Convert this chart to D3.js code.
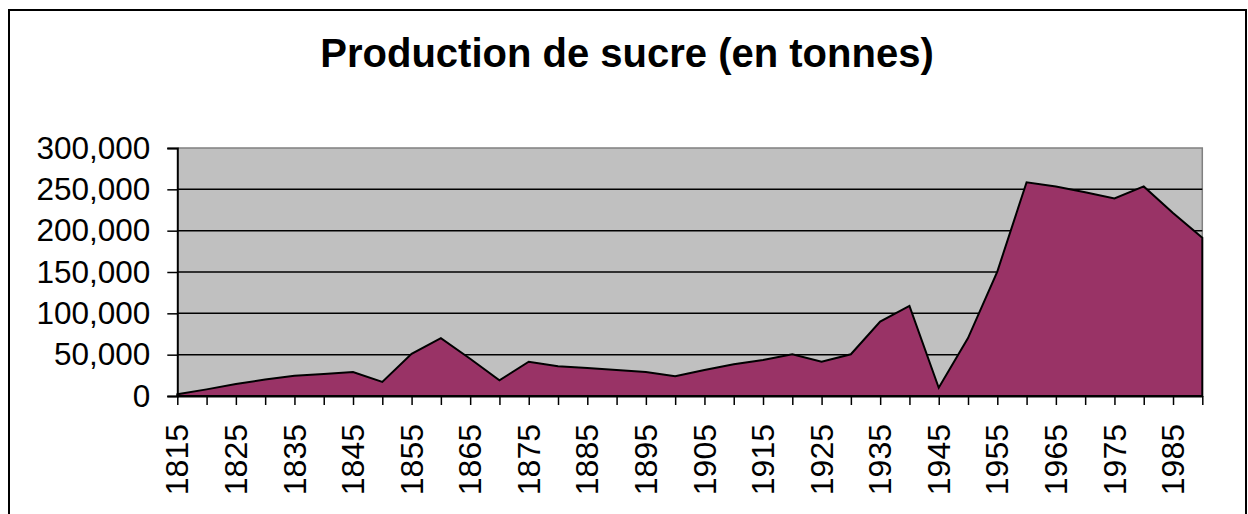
<!DOCTYPE html>
<html>
<head>
<meta charset="utf-8">
<script src="https://cdn.jsdelivr.net/npm/d3@7"></script>
<style>
    html, body { margin: 0; padding: 0; background: #fff; }
    svg { display: block; font-family: "Liberation Sans", Arial, sans-serif; }
</style>
</head>
<body>
<div id="chart"></div>
<script>
let years = [1815, 1820, 1825, 1830, 1835, 1840, 1845, 1850, 1855, 1860,
    1865, 1870, 1875, 1880, 1885, 1890, 1895, 1900, 1905, 1910,
    1915, 1920, 1925, 1930, 1935, 1940, 1945, 1950, 1955, 1960,
    1965, 1970, 1975, 1980, 1985, 1990];
let production = [2000, 8000, 14500, 20000, 24500, 26500, 29000, 17000, 51000, 70000,
    45000, 19000, 41500, 36000, 34000, 31500, 29000, 24000, 31500, 38500,
    43500, 50500, 41500, 50500, 90000, 109000, 10000, 70000, 150500, 258500,
    253500, 246500, 239000, 253500, 221500, 191500];
let yTicks = [0, 50000, 100000, 150000, 200000, 250000, 300000];
let title = "Production de sucre (en tonnes)";

let width = 1248, height = 514;
let plotLeft = 177.3, plotRight = 1202.3, plotTop = 148, plotBottom = 396;

let svg = d3.select("#chart").append("svg")
    .attr("width", width)
    .attr("height", height);

// outer frame
svg.append("rect")
    .attr("x", 9).attr("y", 10)
    .attr("width", 1237).attr("height", 540)
    .attr("fill", "none")
    .attr("stroke", "#000")
    .attr("stroke-width", 2);

svg.append("text")
    .attr("x", 627).attr("y", 67)
    .attr("text-anchor", "middle")
    .attr("font-size", 40)
    .attr("font-weight", "bold")
    .text(title);

let x = d3.scalePoint().domain(years).range([plotLeft, plotRight]);
let y = d3.scaleLinear().domain([0, 300000]).range([plotBottom, plotTop]);

// plot area
svg.append("rect")
    .attr("x", plotLeft).attr("y", plotTop)
    .attr("width", plotRight - plotLeft).attr("height", plotBottom - plotTop)
    .attr("fill", "#c0c0c0");
svg.append("path")
    .attr("d", "M" + plotLeft + "," + plotTop + "H" + plotRight + "V" + plotBottom)
    .attr("fill", "none")
    .attr("stroke", "#808080")
    .attr("stroke-width", 1.5);

// gridlines
svg.append("g")
    .selectAll("line")
    .data(yTicks.filter(function(d) { return d > 0 && d < 300000; }))
    .enter().append("line")
    .attr("x1", plotLeft).attr("x2", plotRight)
    .attr("y1", function(d) { return y(d); })
    .attr("y2", function(d) { return y(d); })
    .attr("stroke", "#000")
    .attr("stroke-width", 1.5);

let area = d3.area()
    .x(function(d, i) { return x(years[i]); })
    .y0(plotBottom)
    .y1(function(d) { return y(d); });

svg.append("path")
    .datum(production)
    .attr("d", area)
    .attr("fill", "#993366")
    .attr("stroke", "#000")
    .attr("stroke-width", 2)
    .attr("stroke-linejoin", "miter");

// y axis
let yAxis = svg.append("g")
    .attr("transform", "translate(" + plotLeft + ",0)")
    .call(d3.axisLeft(y).tickValues(yTicks).tickSize(10).tickPadding(17)
        .tickFormat(d3.format(",")));
yAxis.select(".domain").attr("stroke-width", 2);
yAxis.selectAll(".tick line").attr("stroke-width", 1.5);
yAxis.selectAll("text")
    .attr("font-size", 31.5)
    .attr("font-family", "Liberation Sans, Arial, sans-serif")
    .attr("fill", "#000");

// x axis
let xAxis = svg.append("g")
    .attr("transform", "translate(0," + plotBottom + ")")
    .call(d3.axisBottom(x).tickSize(9).tickSizeOuter(0)
        .tickFormat(function(d, i) { return i % 2 == 0 ? d : ""; }));
xAxis.select(".domain").attr("stroke-width", 2);
xAxis.selectAll(".tick line").attr("stroke-width", 1.5);
xAxis.selectAll("text")
    .attr("font-size", 32)
    .attr("font-family", "Liberation Sans, Arial, sans-serif")
    .attr("fill", "#000")
    .attr("text-anchor", "end")
    .attr("transform", "rotate(-90)")
    .attr("x", -28)
    .attr("y", 0)
    .attr("dy", "0.33em");
</script>
</body>
</html>
